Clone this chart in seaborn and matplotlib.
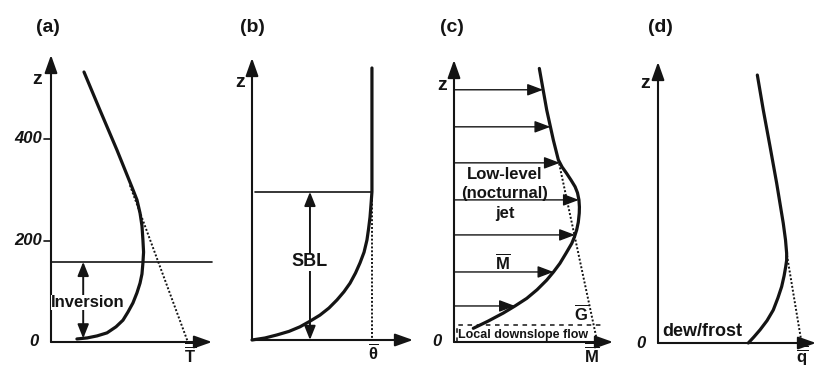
import numpy as np
import pandas as pd
import matplotlib
matplotlib.use("Agg")
import matplotlib.pyplot as plt
import seaborn as sns

# ---- profile data (x: arbitrary units along each horizontal axis, z: height in m) ----
# (a) temperature
temp_x = [20.5, 30.4, 41.0, 50.3, 53.4, 55.3, 56.5, 57.1, 57.5, 57.1, 56.5, 55.3, 53.4,
          50.9, 47.8, 44.7, 40.4, 34.8, 28.6, 22.4, 16.1]
temp_z = [532, 457, 378, 305, 280, 254, 229, 201, 177, 156, 134, 116, 97,
          77, 59, 43, 30, 18, 12, 8, 6]
temp_ref_x = [49.0, 85.0]
temp_ref_z = [309, 0]
inversion_top = 158

# (b) potential temperature
theta_x = [74.5, 74.5, 73.9, 73.3, 72.4, 71.4, 69.6, 67.1, 64.3, 60.9, 57.1, 52.8, 47.8,
           42.2, 36.0, 29.8, 23.0, 15.5, 8.1, 0.0]
theta_z = [536, 292, 266, 242, 219, 197, 173, 152, 132, 112, 95, 79, 63,
           49, 37, 26, 17, 10, 4, 0]
sbl_top = 292

# (c) wind speed
wind_x = [53.0, 57.6, 61.7, 64.8, 67.1, 70.0, 72.7, 75.2, 76.7, 77.6, 77.9, 77.8, 77.2,
          76.2, 74.8, 73.1, 69.6, 65.8, 61.8, 57.6, 51.6, 45.2, 37.9, 30.6, 21.1, 12.0]
wind_z = [539, 457, 398, 359, 345, 332, 319, 306, 294, 280, 266, 254, 236,
          221, 207, 194, 175, 155, 138, 122, 103, 86, 71, 57, 41, 27]
geo_x = [64.8, 89.0]
geo_z = [359, 0]
wind_arrow_z = [497, 424, 353, 280, 211, 138, 71]
downslope_z = 33

# (d) specific humidity
hum_x = [61.7, 65.4, 69.6, 73.7, 77.8, 79.2, 79.9, 79.9, 79.3, 78.3, 76.8, 74.5, 71.6,
         67.7, 63.4, 59.6, 56.1]
hum_z = [528, 459, 387, 315, 236, 203, 177, 163, 150, 132, 111, 89, 65,
         44, 26, 12, 0]
hum_ref_x = [80.1, 89.2]
hum_ref_z = [173, 0]

z_ticks = [0, 200, 400]
panel_tags = ["(a)", "(b)", "(c)", "(d)"]
x_labels = [r"$\overline{\overline{\mathbf{T}}}$", r"$\overline{\mathbf{\theta}}$",
            r"$\overline{\overline{\mathbf{M}}}$", r"$\overline{\overline{\mathbf{q}}}$"]

sns.set_theme(style="white")
plt.rcParams["font.family"] = ["Liberation Sans", "DejaVu Sans"]
plt.rcParams["font.weight"] = "bold"
plt.rcParams["mathtext.fontset"] = "custom"
plt.rcParams["mathtext.rm"] = "Liberation Sans"
plt.rcParams["mathtext.bf"] = "Liberation Sans:bold"
plt.rcParams["mathtext.it"] = "Liberation Sans:italic:bold"

W, H = 818, 367
PX_X, PX_Z = 1.61, 0.5075          # pixels per x unit / per metre
INK = "#141414"

fig = plt.figure(figsize=(W / 100, H / 100), dpi=100)
fig.patch.set_facecolor("white")

# origin (px), end of x axis (px), top of z axis (px)
frames = [(51, 342, 212, 55), (252, 340, 413, 58), (454, 342, 613, 60), (658, 343, 816, 62)]
axes = []
for (x0, y0, xe, yt) in frames:
    ax = fig.add_axes([x0 / W, (H - y0) / H, (xe - x0) / W, (y0 - yt) / H])
    ax.set_xlim(0, (xe - x0) / PX_X)
    ax.set_ylim(0, (y0 - yt) / PX_Z)
    ax.axis("off")
    axes.append(ax)


def draw_frame(ax, idx, label_x, zlabel_x, zlabel_z, zero_x=None):
    xmax, zmax = ax.get_xlim()[1], ax.get_ylim()[1]
    ap = dict(arrowstyle="-|>,head_length=0.9,head_width=0.32", lw=1.5,
              color=INK, shrinkA=0, shrinkB=0)
    ax.annotate("", xy=(0, zmax), xytext=(0, 0), arrowprops=ap, annotation_clip=False)
    ax.annotate("", xy=(xmax, 0), xytext=(0, 0), arrowprops=ap, annotation_clip=False)
    ax.text(zlabel_x, zlabel_z, "z", ha="center", va="center", fontsize=14,
            fontweight="bold", color=INK)
    ax.text(label_x, -23, x_labels[idx], ha="center", va="center", fontsize=12,
            color=INK, clip_on=False)
    if zero_x is not None:
        ax.text(zero_x, 0, "0", ha="right", va="center", fontsize=12,
                fontstyle="italic", fontweight="bold", color=INK)


def profile(ax, xs, zs, **kw):
    df = pd.DataFrame({"x": xs, "z": zs})
    sns.lineplot(data=df, x="x", y="z", sort=False, estimator=None, ax=ax,
                 color=INK, clip_on=False, legend=False,
                 solid_joinstyle="round", solid_capstyle="round", **kw)


dot = (0, (1, 1))

# ---------------- (a) ----------------
ax = axes[0]
draw_frame(ax, 0, 86.3, -8.7, 518, zero_x=-8.0)
for t in z_ticks[1:]:
    ax.plot([-4.3, 0], [t, t], color=INK, lw=1.2, clip_on=False)
    ax.text(-5.6, t, str(t), ha="right", va="center", fontsize=12,
            fontstyle="italic", fontweight="bold", color=INK)
profile(ax, temp_ref_x, temp_ref_z, lw=1.4, linestyle=dot)
profile(ax, temp_x, temp_z, lw=2.3)
ax.axhline(inversion_top, color=INK, lw=1.2, clip_on=False)
ax.annotate("", xy=(20, inversion_top), xytext=(20, 7),
            arrowprops=dict(arrowstyle="<|-|>,head_length=0.7,head_width=0.28",
                            lw=1.4, color=INK, shrinkA=0, shrinkB=0))
ax.text(23, 78, "Inversion", ha="center", va="center", fontsize=12, color=INK,
        bbox=dict(fc="white", ec="none", pad=0.3))

# ---------------- (b) ----------------
ax = axes[1]
draw_frame(ax, 1, 75.2, -7.5, 508)
profile(ax, [theta_x[0], theta_x[0]], [sbl_top, 0], lw=1.4, linestyle=dot)
profile(ax, theta_x, theta_z, lw=2.3)
ax.plot([1.9, theta_x[0]], [sbl_top, sbl_top], color=INK, lw=1.2)
ax.annotate("", xy=(36, sbl_top), xytext=(36, 0),
            arrowprops=dict(arrowstyle="<|-|>,head_length=0.7,head_width=0.28",
                            lw=1.4, color=INK, shrinkA=0, shrinkB=0))
ax.text(36, 154, "SBL", ha="center", va="center", fontsize=13, color=INK,
        bbox=dict(fc="white", ec="none", pad=0.3))

# ---------------- (c) ----------------
ax = axes[2]
draw_frame(ax, 2, 85.7, -7.5, 506, zero_x=-7.5)
profile(ax, geo_x, geo_z, lw=1.4, linestyle=dot)
profile(ax, wind_x, wind_z, lw=2.3)
order = np.argsort(wind_z)
for z in wind_arrow_z:
    tip = np.interp(z, np.array(wind_z)[order], np.array(wind_x)[order])
    ax.annotate("", xy=(tip, z), xytext=(0, z),
                arrowprops=dict(arrowstyle="-|>,head_length=0.8,head_width=0.3",
                                lw=1.0, color=INK, shrinkA=0, shrinkB=0))
for txt, z in [("Low-level", 331), ("(nocturnal)", 293), ("jet", 254)]:
    ax.text(31.7, z, txt, ha="center", va="center", fontsize=12, color=INK)
ax.text(30.4, 158, r"$\overline{\mathbf{M}}$", ha="center", va="center", fontsize=12, color=INK)
ax.text(79.3, 57, r"$\overline{\mathbf{G}}$", ha="center", va="center", fontsize=12, color=INK)
ax.plot([1.9, 1.9, 93.8], [0, downslope_z, downslope_z], color=INK, lw=1.1,
        linestyle=(0, (3, 3)), clip_on=False)
ax.text(2.5, 14, "Local downslope flow", ha="left", va="center", fontsize=9, color=INK)

# ---------------- (d) ----------------
ax = axes[3]
draw_frame(ax, 3, 89.4, -8.0, 512, zero_x=-8.0)
profile(ax, hum_ref_x, hum_ref_z, lw=1.4, linestyle=dot)
profile(ax, hum_x, hum_z, lw=2.3)
ax.text(2.5, 22, "dew/frost", ha="left", va="center", fontsize=13, color=INK)

# panel tags
for tag, (px, py) in zip(panel_tags, [(48, 28), (252, 28), (452, 28), (660, 28)]):
    fig.text(px / W, 1 - py / H, tag, ha="center", va="center", fontsize=14,
             fontweight="bold", color=INK)

fig.savefig("out.png", dpi=100, facecolor="white")
